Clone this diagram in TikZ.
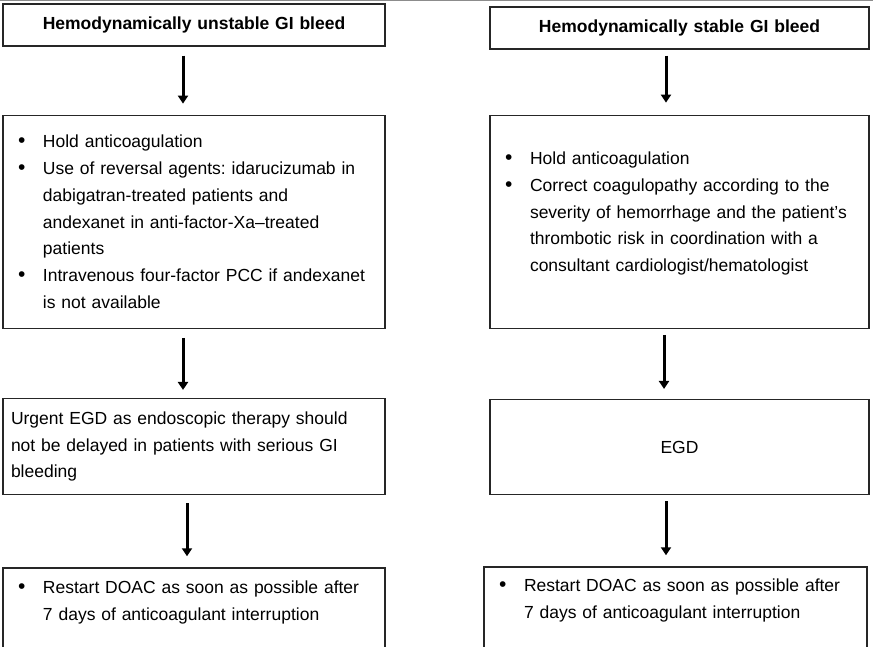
\documentclass[tikz,border=0pt]{standalone}
\usepackage{fontspec}
\setmainfont{Liberation Sans}
\usepackage{tikz}
\usetikzlibrary{positioning, arrows.meta}

\newcommand{\bullead}{\noindent\hangindent=32pt\hangafter=1%
  \hbox to 32pt{\hskip 7pt{\fontsize{21}{0}\selectfont\textbullet}\hss}}
\newcommand{\bulitem}{\par\bullead}
\newcommand{\lowpad}[1]{\rule[-#1]{0pt}{#1}}

\begin{document}
\begin{tikzpicture}[
    box/.style={draw=black!85, line width=1.3pt, inner xsep=8pt, inner ysep=4pt,
      text width=#1-16pt, minimum width=#1, align=left,
      font=\fontsize{17.5}{26.7}\selectfont\frenchspacing},
    box/.default=382pt,
    flow/.style={line width=3pt, -{Triangle[width=10pt, length=8pt]}}]
      \useasboundingbox (0,0) rectangle (873pt,-647pt);%
      \draw [black!45, line width=1.5pt] (0,-0.75pt) -- (873pt,-0.75pt);%

      % unstable
      \node [box, align=center, minimum height=42pt,
      font=\fontsize{17.5}{26.7}\selectfont\bfseries] (U1) at (194pt,-25pt)
      {Hemodynamically unstable GI bleed};%
      \node [box, minimum height=213pt, below=68pt of U1] (U2)
      {\bullead Hold anticoagulation
       \bulitem Use of reversal agents: idarucizumab in\newline
       dabigatran-treated patients and\newline
       andexanet in anti-factor-Xa--treated\newline
       patients
       \bulitem Intravenous four-factor PCC if andexanet\newline
       is not available\par};%
      \node [box, minimum height=96pt, below=69pt of U2] (U3)
      {Urgent EGD as endoscopic therapy should\\
       not be delayed in patients with serious GI\\
       bleeding};%
      \node [box, minimum height=82pt, below=72pt of U3] (U4)
      {\bullead Restart DOAC as soon as possible after\newline
       7 days of anticoagulant interruption\lowpad{16pt}\par};%

      % stable
      \node [box=379pt, align=center, minimum height=42pt,
      font=\fontsize{17.5}{26.7}\selectfont\bfseries] (S1) at (679.5pt,-28pt)
      {Hemodynamically stable GI bleed};%
      \node [box=379pt, minimum height=213pt, below=65pt of S1] (S2)
      {\bullead Hold anticoagulation
       \bulitem Correct coagulopathy according to the\newline
       severity of hemorrhage and the patient’s\newline
       thrombotic risk in coordination with a\newline
       consultant cardiologist/hematologist\lowpad{20pt}\par};%
      \node [box=379pt, align=center, minimum height=95pt, below=70pt of S2] (S3)
      {EGD};%
      \node [box=383pt, minimum height=82pt, below=71pt of S3, xshift=-4pt] (S4)
      {\bullead Restart DOAC as soon as possible after\newline
       7 days of anticoagulant interruption\lowpad{18pt}\par};%

      % arrows
      \draw [flow] ([xshift=-11pt, yshift=-9pt]U1.south) -- ([xshift=-11pt,
      yshift=11pt]U2.north);%
      \draw [flow] ([xshift=-11pt, yshift=-9pt]U2.south) -- ([xshift=-11pt,
      yshift=8pt]U3.north);%
      \draw [flow] ([xshift=-7pt, yshift=-8pt]U3.south) -- ([xshift=-7pt,
      yshift=11pt]U4.north);%

      \draw [flow] ([xshift=-13.5pt, yshift=-6pt]S1.south) -- ([xshift=-13.5pt,
      yshift=12pt]S2.north);%
      \draw [flow] ([xshift=-15.5pt, yshift=-6pt]S2.south) -- ([xshift=-15.5pt,
      yshift=10pt]S3.north);%
      \draw [flow] ([xshift=-13.5pt, yshift=-6pt]S3.south) -- ([xshift=-9.5pt,
      yshift=11pt]S4.north);%
    \end{tikzpicture}
\end{document}
